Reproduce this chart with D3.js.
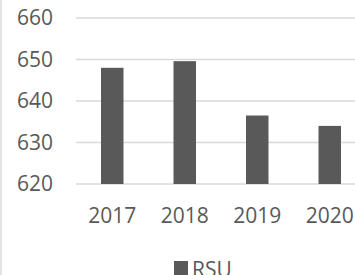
<!DOCTYPE html>
<html>
<head>
<meta charset="utf-8">
<script src="https://cdn.jsdelivr.net/npm/d3@7"></script>
<style>
  body { margin: 0; background: #fff; }
  text { font-family: "Open Sans", sans-serif; fill: #595959; }
</style>
</head>
<body>
<div class="chart"></div>
<script>
var years = ["2017", "2018", "2019", "2020"];
var rsu = [648, 649.6, 636.5, 634];
var yTicks = [620, 630, 640, 650, 660];
var seriesName = "RSU";

var svgWidth = 355;
var svgHeight = 275;

var margin = { top: 18, right: -11, bottom: 91, left: 76 };
var width = svgWidth - margin.left - margin.right;
var height = svgHeight - margin.top - margin.bottom;

var svg = d3.select(".chart")
  .append("svg")
  .attr("width", svgWidth)
  .attr("height", svgHeight);

// chart border (only the left edge shows in the crop)
svg.append("line")
  .attr("x1", 1).attr("x2", 1)
  .attr("y1", 0).attr("y2", svgHeight)
  .attr("stroke", "#d9d9d9")
  .attr("stroke-width", 1.5);

var chartGroup = svg.append("g")
  .attr("transform", `translate(${margin.left}, ${margin.top})`);

var x = d3.scaleBand()
  .domain(years)
  .range([0, width])
  .paddingInner(0.69)
  .paddingOuter(0.345);

var y = d3.scaleLinear()
  .domain([620, 660])
  .range([height, 0]);

// gridlines
chartGroup.selectAll(".grid")
  .data(yTicks)
  .enter()
  .append("line")
  .attr("x1", 0)
  .attr("x2", width)
  .attr("y1", d => y(d))
  .attr("y2", d => y(d))
  .attr("stroke", "#d9d9d9")
  .attr("stroke-width", 1.5);

// y labels
var leftAxis = d3.axisLeft(y).tickValues(yTicks).tickSize(0).tickPadding(23);
var yAxis = chartGroup.append("g").call(leftAxis);
yAxis.select(".domain").remove();
yAxis.selectAll("text")
  .style("font-size", "21px")
  .attr("dy", "0.31em");

// bars
chartGroup.selectAll(".bar")
  .data(rsu)
  .enter()
  .append("rect")
  .attr("x", (d, i) => x(years[i]))
  .attr("width", x.bandwidth())
  .attr("y", d => y(d))
  .attr("height", d => height - y(d))
  .attr("fill", "#595959");

// x labels
var bottomAxis = d3.axisBottom(x).tickSize(0).tickPadding(24);
var xAxis = chartGroup.append("g")
  .attr("transform", `translate(0, ${height})`)
  .call(bottomAxis);
xAxis.select(".domain").remove();
xAxis.selectAll("text")
  .style("font-size", "21px");

// legend
var legend = svg.append("g").attr("transform", "translate(174, 261)");
legend.append("rect")
  .attr("width", 14)
  .attr("height", 14)
  .attr("fill", "#595959");
legend.append("text")
  .attr("x", 18)
  .attr("y", 16)
  .style("font-size", "21px")
  .text(seriesName);
</script>
</body>
</html>
